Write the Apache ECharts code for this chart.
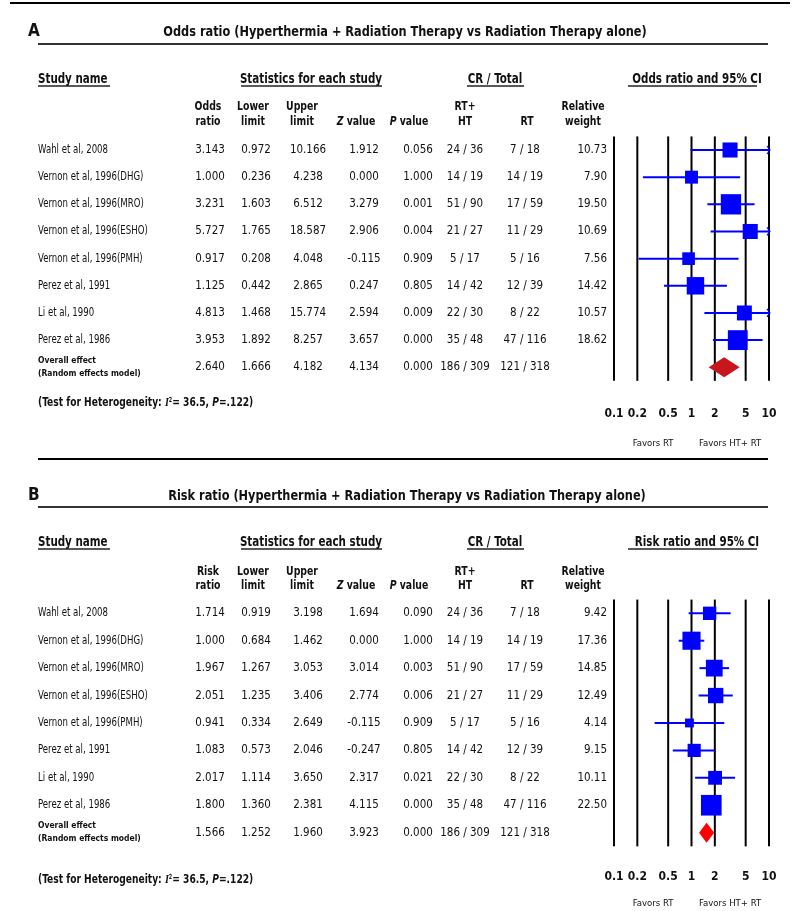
<!DOCTYPE html>
<html>
<head>
<meta charset="utf-8">
<script src="https://cdn.jsdelivr.net/npm/echarts@6/dist/echarts.min.js"></script>
<style>
  html, body { margin: 0; background: #fff; }
  #chart { width: 796px; height: 911px; }
</style>
</head>
<body>
<div id="chart"></div>
<script>
// ---- data ----
const studies = ['Wahl et al, 2008', 'Vernon et al, 1996(DHG)', 'Vernon et al, 1996(MRO)', 'Vernon et al, 1996(ESHO)',
  'Vernon et al, 1996(PMH)', 'Perez et al, 1991', 'Li et al, 1990', 'Perez et al, 1986']
const htCR = ['24 / 36', '14 / 19', '51 / 90', '21 / 27', '5 / 17', '14 / 42', '22 / 30', '35 / 48']
const rtCR = ['7 / 18', '14 / 19', '17 / 59', '11 / 29', '5 / 16', '12 / 39', '8 / 22', '47 / 116']
const overallCR = ['186 / 309', '121 / 318']

// odds ratio (panel A)
const orEst = [3.143, 1.000, 3.231, 5.727, 0.917, 1.125, 4.813, 3.953]
const orLower = [0.972, 0.236, 1.603, 1.765, 0.208, 0.442, 1.468, 1.892]
const orUpper = [10.166, 4.238, 6.512, 18.587, 4.048, 2.865, 15.774, 8.257]
const orZ = [1.912, 0.000, 3.279, 2.906, -0.115, 0.247, 2.594, 3.657]
const orP = [0.056, 1.000, 0.001, 0.004, 0.909, 0.805, 0.009, 0.000]
const orWeight = [10.73, 7.90, 19.50, 10.69, 7.56, 14.42, 10.57, 18.62]
const orOverall = [2.640, 1.666, 4.182, 4.134, 0.000] // est, lower, upper, z, p

// risk ratio (panel B)
const rrEst = [1.714, 1.000, 1.967, 2.051, 0.941, 1.083, 2.017, 1.800]
const rrLower = [0.919, 0.684, 1.267, 1.235, 0.334, 0.573, 1.114, 1.360]
const rrUpper = [3.198, 1.462, 3.053, 3.406, 2.649, 2.046, 3.650, 2.381]
const rrZ = [1.694, 0.000, 3.014, 2.774, -0.115, -0.247, 2.317, 4.115]
const rrP = [0.090, 1.000, 0.003, 0.006, 0.909, 0.805, 0.021, 0.000]
const rrWeight = [9.42, 17.36, 14.85, 12.49, 4.14, 9.15, 10.11, 22.50]
const rrOverall = [1.566, 1.252, 1.960, 3.923, 0.000]

const scaleTicks = [0.1, 0.2, 0.5, 1, 2, 5, 10]
const heterogeneity = { i2: '36.5', p: '.122' }

// ---- look ----
const FAMILY = '"Liberation Sans Narrow", "DejaVu Sans Condensed", "Noto Sans", sans-serif'
const INK = '#111'
const BLUE = '#0000ff'
const X_MIN = 0.1
const X_MAX = 10
const COL = { name: 38, est: 210, lo: 256, hi: 308, z: 364, p: 418, ht: 465, rt: 525, w: 607 }
// horizontal squeeze so the condensed fallback font matches the narrow original
const SX = { title: 0.87, group: 0.82, col: 0.83, name: 0.83, overall: 0.89, het: 0.78 }

const panels = [
  {
    key: 'A', labelY: 32, titleX: 405, titleY: 32, titleLineY: 44, headY: 79, headLineY: 86, colY1: 107, colY2: 122,
    first: 150, step: 27.16, hetY: 403, tickDy: 33, favY: 444,
    title: 'Odds ratio (Hyperthermia + Radiation Therapy vs Radiation Therapy alone)',
    estHead: ['Odds', 'ratio'], ciHead: 'Odds ratio and 95% CI',
    est: orEst, lower: orLower, upper: orUpper, z: orZ, p: orP, weight: orWeight, overall: orOverall,
    diamond: '#c8161d', sq: 4.6,
  },
  {
    key: 'B', labelY: 496, titleX: 407, titleY: 496, titleLineY: 507, headY: 542, headLineY: 549, colY1: 572, colY2: 586,
    first: 613.3, step: 27.42, hetY: 880, tickDy: 31, favY: 904,
    title: 'Risk ratio (Hyperthermia + Radiation Therapy vs Radiation Therapy alone)',
    estHead: ['Risk', 'ratio'], ciHead: 'Risk ratio and 95% CI',
    est: rrEst, lower: rrLower, upper: rrUpper, z: rrZ, p: rrP, weight: rrWeight, overall: rrOverall,
    diamond: '#ff0000', sq: 4.35,
  },
]

function font(size, weight, style, family) {
  return { fontSize: size, fontWeight: weight || 'normal', fontStyle: style || 'normal', fontFamily: family || FAMILY }
}
function textStyle(text, f, align, extra) {
  return Object.assign({ text: text, fill: INK, align: align, textAlign: align, verticalAlign: 'middle', textVerticalAlign: 'middle' }, f, extra || {})
}

const REG = font(11.5)
const BOLD_HEAD = font(12.5, 'bold')
const SMALL_BOLD = font(9.5, 'bold')

// table rows, tied to the y axis of the panel
function tableRenderer(p) {
  return function (params, api) {
    const i = api.value(0)
    const y = api.coord([1, i])[1]
    const kids = []
    const put = (x, text, align, f, dy, sx) =>
      kids.push({ type: 'text', x: x, y: y + (dy || 0), scaleX: sx || 1, style: textStyle(text, f, align) })
    const over = i === 8
    const est = over ? p.overall[0] : p.est[i]
    const lo = over ? p.overall[1] : p.lower[i]
    const hi = over ? p.overall[2] : p.upper[i]
    const z = over ? p.overall[3] : p.z[i]
    const pv = over ? p.overall[4] : p.p[i]
    if (over) {
      put(COL.name, 'Overall effect', 'left', SMALL_BOLD, -7, SX.overall)
      put(COL.name, '(Random effects model)', 'left', SMALL_BOLD, 6, SX.overall)
    } else {
      put(COL.name, studies[i], 'left', REG, 0, SX.name)
    }
    put(COL.est, est.toFixed(3), 'center', REG)
    put(COL.lo, lo.toFixed(3), 'center', REG)
    put(COL.hi, hi.toFixed(3), 'center', REG)
    put(COL.z, z.toFixed(3), 'center', REG)
    put(COL.p, pv.toFixed(3), 'center', REG)
    put(COL.ht, over ? overallCR[0] : htCR[i], 'center', REG)
    put(COL.rt, over ? overallCR[1] : rtCR[i], 'center', REG)
    if (!over) put(COL.w, p.weight[i].toFixed(2), 'right', REG)
    return { type: 'group', children: kids }
  }
}

// black reference lines + scale labels
function scaleRenderer(p) {
  return function (params, api) {
    const v = api.value(0)
    const x = api.coord([v, 0])[0]
    const cs = params.coordSys
    return {
      type: 'group',
      children: [
        { type: 'line', shape: { x1: x, y1: cs.y, x2: x, y2: cs.y + cs.height }, style: { stroke: '#000', lineWidth: 2 } },
        { type: 'text', x: x, y: cs.y + cs.height + p.tickDy, style: textStyle(String(v), font(12, 'bold'), 'center') },
      ],
    }
  }
}

function forestRenderer(p) {
  return function (params, api) {
    const i = api.value(0)
    const est = api.value(1)
    const lo = api.value(2)
    const hi = api.value(3)
    const w = api.value(4)
    const pE = api.coord([est, i])
    const pL = api.coord([Math.max(lo, X_MIN), i])
    const pH = api.coord([Math.min(hi, X_MAX), i])
    const s = p.sq * Math.sqrt(w)
    const kids = [
      { type: 'line', shape: { x1: pL[0], y1: pL[1], x2: pH[0], y2: pH[1] }, style: { stroke: BLUE, lineWidth: 2 } },
      { type: 'rect', shape: { x: pE[0] - s / 2, y: pE[1] - s / 2, width: s, height: s }, style: { fill: BLUE } },
    ]
    if (hi > X_MAX) {
      kids.push({
        type: 'polyline',
        shape: { points: [[pH[0] - 2, pH[1] - 4], [pH[0] + 1, pH[1]], [pH[0] - 2, pH[1] + 4]] },
        style: { stroke: BLUE, lineWidth: 1.2, fill: null },
      })
    }
    return { type: 'group', children: kids }
  }
}

function diamondRenderer(p) {
  return function (params, api) {
    const i = api.value(0)
    const pE = api.coord([api.value(1), i])
    const pL = api.coord([api.value(2), i])
    const pH = api.coord([api.value(3), i])
    const h = 10
    return {
      type: 'polygon',
      shape: { points: [[pL[0], pE[1]], [pE[0], pE[1] - h], [pH[0], pE[1]], [pE[0], pE[1] + h]] },
      style: { fill: p.diamond },
    }
  }
}

function headerGraphics(p) {
  const g = []
  const txt = (x, y, text, f, align, sx, extra) =>
    g.push({ type: 'text', x: x, y: y, scaleX: sx || 1, style: textStyle(text, f, align, extra) })
  const hline = (x1, x2, y, w, c) => g.push({ type: 'line', shape: { x1: x1, y1: y, x2: x2, y2: y }, style: { stroke: c || '#222', lineWidth: w || 1.5 } })

  txt(28, p.labelY, p.key, font(17, 'bold'), 'left')
  txt(p.titleX, p.titleY, p.title, font(14.5, 'bold'), 'center', SX.title)
  hline(38, 768, p.titleLineY, 2, '#333')

  const gh = font(14, 'bold')
  txt(38, p.headY, 'Study name', gh, 'left', SX.group)
  hline(38, 110, p.headLineY, 1.5)
  txt(311, p.headY, 'Statistics for each study', gh, 'center', SX.group)
  hline(241, 382, p.headLineY, 1.5)
  txt(495, p.headY, 'CR / Total', gh, 'center', SX.group)
  hline(467, 524, p.headLineY, 1.5)
  txt(697, p.headY, p.ciHead, gh, 'center', SX.group)
  hline(628, 757, p.headLineY, 1.5)

  const c = SX.col
  txt(208, p.colY1, p.estHead[0], BOLD_HEAD, 'center', c)
  txt(208, p.colY2, p.estHead[1], BOLD_HEAD, 'center', c)
  txt(253, p.colY1, 'Lower', BOLD_HEAD, 'center', c)
  txt(253, p.colY2, 'limit', BOLD_HEAD, 'center', c)
  txt(302, p.colY1, 'Upper', BOLD_HEAD, 'center', c)
  txt(302, p.colY2, 'limit', BOLD_HEAD, 'center', c)
  const ib = font(12.5, 'bold', 'italic')
  txt(356, p.colY2, '{i|Z}{b| value}', BOLD_HEAD, 'center', c, { rich: { i: ib, b: BOLD_HEAD } })
  txt(409, p.colY2, '{i|P}{b| value}', BOLD_HEAD, 'center', c, { rich: { i: ib, b: BOLD_HEAD } })
  txt(465, p.colY1, 'RT+', BOLD_HEAD, 'center', c)
  txt(465, p.colY2, 'HT', BOLD_HEAD, 'center', c)
  txt(527, p.colY2, 'RT', BOLD_HEAD, 'center', c)
  txt(583, p.colY1, 'Relative', BOLD_HEAD, 'center', c)
  txt(583, p.colY2, 'weight', BOLD_HEAD, 'center', c)

  const hb = font(13, 'bold')
  txt(38, p.hetY,
    '{b|(Test for Heterogeneity: }{i|I}{s|2}{b|= ' + heterogeneity.i2 + ', }{p|P}{b|=' + heterogeneity.p + ')}',
    hb, 'left', SX.het, {
      rich: {
        b: hb,
        i: font(13, 'bold', 'italic', '"Liberation Serif", serif'),
        s: Object.assign(font(7, 'bold'), { verticalAlign: 'top' }),
        p: font(13, 'bold', 'italic'),
      },
    })

  txt(653, p.favY, 'Favors RT', font(9.5), 'center')
  txt(730, p.favY, 'Favors HT+ RT', font(9.5), 'center')
  return g
}

// ---- build ----
const grids = []
const xAxes = []
const yAxes = []
const series = []
let graphics = []

panels.forEach((p, k) => {
  grids.push({ left: 614, width: 155, top: p.first - p.step / 2, height: p.step * 9 })
  xAxes.push({ type: 'log', logBase: 10, min: X_MIN, max: X_MAX, gridIndex: k, show: false })
  yAxes.push({ type: 'value', inverse: true, min: -0.5, max: 8.5, gridIndex: k, show: false })

  series.push({
    type: 'custom', xAxisIndex: k, yAxisIndex: k, encode: { x: 0, y: 1 },
    data: scaleTicks.map((v) => [v, 0]), renderItem: scaleRenderer(p), silent: true,
  })
  series.push({
    type: 'custom', xAxisIndex: k, yAxisIndex: k, encode: { x: 1, y: 0 },
    data: p.est.map((e, i) => [i, e, p.lower[i], p.upper[i], p.weight[i]]), renderItem: forestRenderer(p), silent: true,
  })
  series.push({
    type: 'custom', xAxisIndex: k, yAxisIndex: k, encode: { x: 1, y: 0 },
    data: [[8, p.overall[0], p.overall[1], p.overall[2]]], renderItem: diamondRenderer(p), silent: true,
  })
  series.push({
    type: 'custom', xAxisIndex: k, yAxisIndex: k, encode: { x: 1, y: 0 },
    data: [0, 1, 2, 3, 4, 5, 6, 7, 8].map((i) => [i, 1]), renderItem: tableRenderer(p), silent: true,
  })
  graphics = graphics.concat(headerGraphics(p))
})

// rules across the page
graphics.push({ type: 'line', shape: { x1: 10, y1: 3, x2: 790, y2: 3 }, style: { stroke: '#000', lineWidth: 2 } })
graphics.push({ type: 'line', shape: { x1: 38, y1: 459, x2: 768, y2: 459 }, style: { stroke: '#000', lineWidth: 2 } })

const chart = echarts.init(document.getElementById('chart'))
chart.setOption({
  animation: false,
  backgroundColor: '#fff',
  grid: grids,
  xAxis: xAxes,
  yAxis: yAxes,
  series: series,
  graphic: graphics,
})
</script>
</body>
</html>
